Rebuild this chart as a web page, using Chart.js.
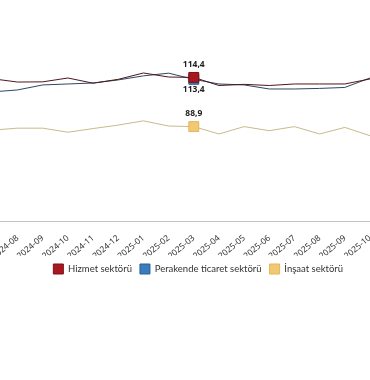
<!DOCTYPE html>
<html>
<head>
<meta charset="utf-8">
<script src="https://cdn.jsdelivr.net/npm/chart.js@4"></script>
<style>
html,body{margin:0;padding:0;width:370px;height:380px;overflow:hidden;background:#fff;}
#wrap{position:absolute;left:-200px;top:0;width:604px;height:284px;}
</style>
</head>
<body>
<div id="wrap"><canvas id="c"></canvas></div>
<script>
const categories = ["2024-07","2024-08","2024-09","2024-10","2024-11","2024-12","2025-01","2025-02","2025-03","2025-04","2025-05","2025-06","2025-07","2025-08","2025-09","2025-10"];
const hizmet =    [113.7,112.0,112.1,114.1,111.4,113.4,116.7,114.6,114.4,110.2,110.8,110.2,111.0,111.0,111.0,113.6];
const perakende = [106.9,107.9,110.5,111.0,111.5,113.1,115.2,116.6,113.4,111.0,110.5,108.4,108.4,108.7,109.2,114.1];
const insaat =    [87.1,88.1,88.1,86.0,87.9,89.7,91.9,89.2,88.9,85.1,88.9,86.8,88.9,85.1,88.5,84.2];
const seriesNames = ["Hizmet sektörü","Perakende ticaret sektörü","İnşaat sektörü"];
const markIndex = 8;
const markLabels = ["114,4","113,4","88,9"];

function radiusAt(r){ return ctx => ctx.dataIndex === markIndex ? r : 0; }

const labelPlugin = {
  id:'marklabels',
  afterDatasetsDraw(chart){
    const c = chart.ctx;
    c.save();
    c.font = 'bold 8.5px "Noto Sans", sans-serif';
    c.fillStyle = '#222';
    c.textAlign = 'center';
    c.textBaseline = 'middle';
    const offs = [-13, 10, -13];
    chart.data.datasets.forEach((ds, i) => {
      const p = chart.getDatasetMeta(i).data[markIndex];
      c.fillText(markLabels[i], p.x, p.y + offs[i]);
    });
    c.restore();
  }
};

new Chart(document.getElementById('c'), {
  type:'line',
  data:{
    labels: categories,
    datasets:[
      {label:seriesNames[0], data:hizmet, borderColor:'#4e161b', backgroundColor:'#a8191f', borderWidth:1,
       pointStyle:'rect', pointRadius:radiusAt(7), pointBackgroundColor:'#a8191f', pointBorderColor:'#7a1016', pointBorderWidth:1, tension:0},
      {label:seriesNames[1], data:perakende, borderColor:'#2c4863', backgroundColor:'#3a7dbf', borderWidth:1,
       pointStyle:'rect', pointRadius:radiusAt(7), pointBackgroundColor:'#3a7dbf', pointBorderColor:'#2a5f94', pointBorderWidth:1, tension:0},
      {label:seriesNames[2], data:insaat, borderColor:'#c9b98c', backgroundColor:'#f3c874', borderWidth:1,
       pointStyle:'rect', pointRadius:radiusAt(7), pointBackgroundColor:'#f3c874', pointBorderColor:'#e3b45a', pointBorderWidth:1, tension:0}
    ]
  },
  options:{
    responsive:true, maintainAspectRatio:false, animation:false,
    layout:{padding:{left:192.4, right:0, top:28, bottom:0}},
    plugins:{
      legend:{position:'bottom', labels:{boxWidth:10, boxHeight:10, padding:8, color:'#333',
        font:{family:'Lato, sans-serif', size:9.5},
        generateLabels(chart){
          return chart.data.datasets.map((ds,i)=>({text:ds.label, fillStyle:ds.backgroundColor, strokeStyle:ds.pointBorderColor, lineWidth:1, datasetIndex:i, fontColor:'#333'}));
        }}},
      tooltip:{enabled:false}
    },
    scales:{
      x:{offset:false, grid:{display:false}, border:{display:true, color:'#c4c4c4', width:1},
         ticks:{autoSkip:false, minRotation:40, maxRotation:40, color:'#333', padding:4, font:{family:'"Noto Sans", sans-serif', size:8.5}},
         afterFit(s){ s.height = 35; }},
      y:{position:'right', min:40, max:140, grid:{display:false}, border:{display:false},
         ticks:{display:false}, afterFit(s){ s.width = 34; }}
    }
  },
  plugins:[labelPlugin]
});
</script>
</body>
</html>
